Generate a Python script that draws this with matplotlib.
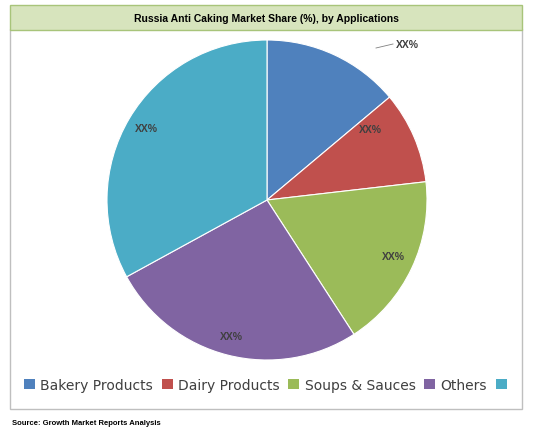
import matplotlib
matplotlib.use("Agg")
import matplotlib.pyplot as plt
from matplotlib.patches import Rectangle

categories = ["Bakery Products", "Dairy Products", "Soups & Sauces", "Others", ""]
values = [13.9, 9.3, 17.7, 26.2, 33.0]
labels = ["XX%", "XX%", "XX%", "XX%", "XX%"]
colors = ["#4F81BD", "#C0504D", "#9BBB59", "#8064A2", "#4BACC6"]

W, H = 535, 439
fig = plt.figure(figsize=(W/100, H/100), dpi=100)
fig.patch.set_facecolor("white")

def fx(x): return x / W
def fy(y): return 1 - y / H

fig.patches.append(Rectangle((fx(10), fy(410)), fx(522)-fx(10), fy(30)-fy(410),
                             transform=fig.transFigure, fill=False, ec="#BFBFBF", lw=1))
fig.patches.append(Rectangle((fx(10), fy(31)), fx(522)-fx(10), fy(6)-fy(31),
                             transform=fig.transFigure, fc="#D7E4BD", ec="#A8C47A", lw=1))
fig.text(fx(266), fy(18.5), "Russia Anti Caking Market Share (%), by Applications",
         ha="center", va="center", fontsize=7.5, fontweight="bold", family="Liberation Sans")

ax = fig.add_axes([fx(107), fy(361), 320/W, 320/H])
wedges, _ = ax.pie(values, colors=colors, startangle=90, counterclock=False, radius=1,
                   wedgeprops=dict(edgecolor="white", linewidth=0.8))
ax.set_xlim(-1.0, 1.0)
ax.set_ylim(-1.0, 1.0)
ax.set_aspect("equal")

label_pos = [(407, 45), (370, 130), (393, 257), (231, 337), (146, 129)]
for lab, (x, y) in zip(labels, label_pos):
    fig.text(fx(x), fy(y), lab, ha="center", va="center", fontsize=7.5,
             fontweight="bold", color="#404040", family="Liberation Sans")
fig.lines.append(plt.Line2D([fx(376), fx(393)], [fy(49), fy(45)],
                            transform=fig.transFigure, color="#808080", lw=0.6))

handles = [Rectangle((0, 0), 1, 1, fc=c) for c in colors]
fig.legend(handles, categories, loc="center", bbox_to_anchor=(fx(268), fy(386)),
           ncol=5, frameon=False, handlelength=0.8, handleheight=0.8,
           columnspacing=0.6, handletextpad=0.4,
           prop={"family": "DejaVu Sans", "size": 10}, labelcolor="#404040")

fig.text(fx(12), fy(424), "Source: Growth Market Reports Analysis", ha="left", va="center",
         fontsize=5.5, fontweight="bold", family="Liberation Sans")

fig.savefig("out.png", dpi=100)
